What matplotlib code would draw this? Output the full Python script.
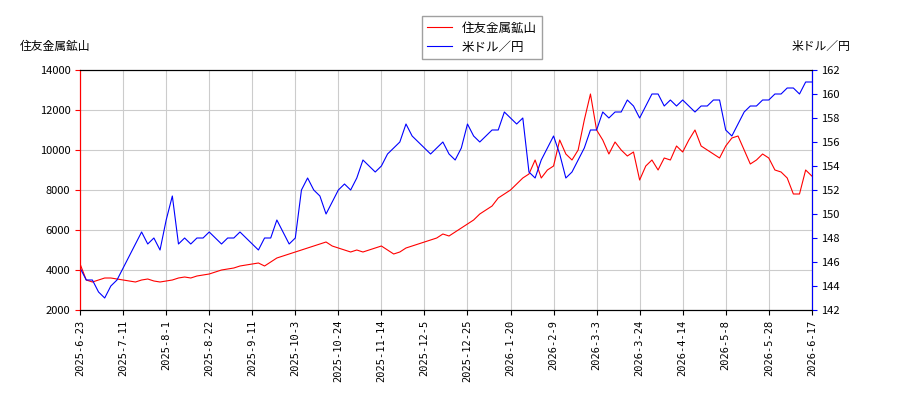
import matplotlib
matplotlib.use("Agg")
import matplotlib.pyplot as plt
import numpy as np

plt.rcParams['font.family'] = ['Noto Sans CJK JP', 'DejaVu Sans']

tick_labels = ["2025-6-23","2025-7-11","2025-8-1","2025-8-22","2025-9-11","2025-10-3",
               "2025-10-24","2025-11-14","2025-12-5","2025-12-25","2026-1-20","2026-2-9",
               "2026-3-3","2026-3-24","2026-4-14","2026-5-8","2026-5-28","2026-6-17"]

stock = [4300,3500,3400,3500,3600,3600,3550,
         3500,3450,3400,3500,3550,3450,3400,
         3450,3500,3600,3650,3600,3700,3750,
         3800,3900,4000,4050,4100,4200,4250,
         4300,4350,4200,4400,4600,4700,4800,
         4900,5000,5100,5200,5300,5400,5200,
         5100,5000,4900,5000,4900,5000,5100,
         5200,5000,4800,4900,5100,5200,5300,
         5400,5500,5600,5800,5700,5900,6100,
         6300,6500,6800,7000,7200,7600,7800,
         8000,8300,8600,8800,9500,8600,9000,
         9200,10500,9800,9500,10000,11500,12800,
         11000,10500,9800,10400,10000,9700,9900,
         8500,9200,9500,9000,9600,9500,10200,
         9900,10500,11000,10200,10000,9800,9600,
         10200,10600,10700,10000,9300,9500,9800,
         9600,9000,8900,8600,7800,7800,9000,8700]

usdjpy = [145.5,144.5,144.5,143.5,143.0,144.0,144.5,
          145.5,146.5,147.5,148.5,147.5,148.0,147.0,
          149.5,151.5,147.5,148.0,147.5,148.0,148.0,
          148.5,148.0,147.5,148.0,148.0,148.5,148.0,
          147.5,147.0,148.0,148.0,149.5,148.5,147.5,
          148.0,152.0,153.0,152.0,151.5,150.0,151.0,
          152.0,152.5,152.0,153.0,154.5,154.0,153.5,
          154.0,155.0,155.5,156.0,157.5,156.5,156.0,
          155.5,155.0,155.5,156.0,155.0,154.5,155.5,
          157.5,156.5,156.0,156.5,157.0,157.0,158.5,
          158.0,157.5,158.0,153.5,153.0,154.5,155.5,
          156.5,155.0,153.0,153.5,154.5,155.5,157.0,
          157.0,158.5,158.0,158.5,158.5,159.5,159.0,
          158.0,159.0,160.0,160.0,159.0,159.5,159.0,
          159.5,159.0,158.5,159.0,159.0,159.5,159.5,
          157.0,156.5,157.5,158.5,159.0,159.0,159.5,
          159.5,160.0,160.0,160.5,160.5,160.0,161.0,161.0]

x = np.arange(len(stock)) * 2

fig = plt.figure(figsize=(9, 4), dpi=100)
ax = fig.add_axes([0.089, 0.225, 0.813, 0.6])
ax2 = ax.twinx()
l1, = ax.plot(x, stock, color='red', lw=0.8, label='住友金属鉱山')
l2, = ax2.plot(x, usdjpy, color='blue', lw=0.8, label='米ドル／円')
ax.set_xlim(0, 238)
ax.set_ylim(2000, 14000)
ax2.set_ylim(142, 162)
ax.set_yticks(range(2000, 14001, 2000))
ax2.set_yticks(range(142, 163, 2))
ax.set_xticks(np.arange(0, 239, 14))
ax.set_xticklabels(tick_labels, rotation=90, fontsize=7.5, family='DejaVu Sans Mono')
ax.tick_params(axis='y', colors='red', labelsize=8)
ax.tick_params(axis='y', labelcolor='black')
ax2.tick_params(axis='y', colors='blue', labelsize=8)
ax2.tick_params(axis='y', labelcolor='black')
ax.spines['left'].set_color('red')
ax2.spines['left'].set_color('red')
ax2.spines['right'].set_color('blue')
ax.grid(True, color='#cccccc', lw=0.8)
fig.text(0.022, 0.875, '住友金属鉱山', fontsize=8.5)
fig.text(0.945, 0.875, '米ドル／円', fontsize=8.5, ha='right')
fig.legend(handles=[l1, l2], loc='upper center', bbox_to_anchor=(0.535, 0.975),
           fontsize=9, frameon=True, fancybox=False, edgecolor='#888888')
fig.savefig('out.png', dpi=100)
